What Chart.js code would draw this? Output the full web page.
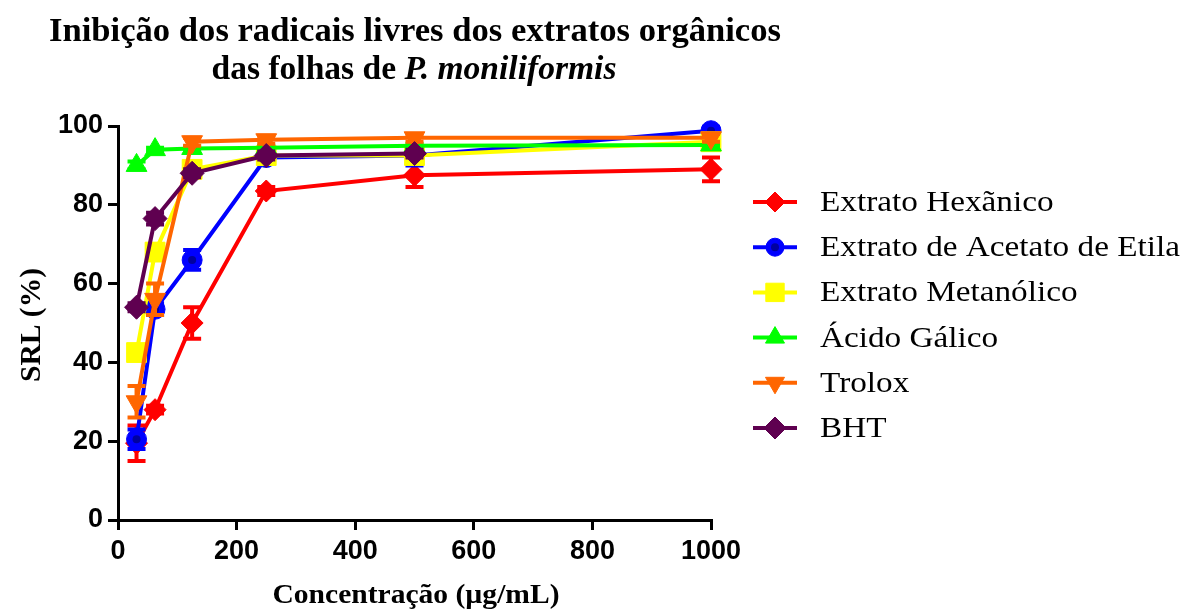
<!DOCTYPE html>
<html>
<head>
<meta charset="utf-8">
<script src="https://cdn.jsdelivr.net/npm/chart.js@4/dist/chart.umd.min.js"></script>
<style>
html,body{margin:0;padding:0;background:#fff;}
#wrap{width:1186px;height:610px;position:relative;}
</style>
</head>
<body>
<div id="wrap"><canvas id="c"></canvas></div>
<script>
// ---- data ----
const concentrations = [31.25, 62.5, 125, 250, 500, 1000];
const seriesNames = ["Extrato Hexãnico", "Extrato de Acetato de Etila", "Extrato Metanólico", "Ácido Gálico", "Trolox", "BHT"];
const hexanico   = [19.5, 28, 50, 83.5, 87.5, 89];
const hexanicoErr = [4.5, 1, 4, 1, 3, 3];
const acetato    = [20.5, 53.5, 66, 92, 92.5, 98.8];
const acetatoErr = [2.5, 1.5, 2.5, 1, 2.5, 1];
const metanolico = [42.5, 68, 89, 92.5, 92.5, 96];
const metanolicoErr = [1, 2, 1.5, 1, 1, 0.5];
const galico     = [90, 94, 94.3, 94.5, 95, 95.2];
const galicoErr  = [1, 0.5, 0.5, 0.5, 0.5, 0.5];
const trolox     = [30, 56, 96, 96.5, 97, 97];
const troloxErr  = [4, 4, 1, 1, 1, 1];
const bht        = [54, 76.5, 88, 92.5, 93, null];
const bhtErr     = [1, 1.5, 1, 1, 1, null];
const xTicks = [0, 200, 400, 600, 800, 1000];
const yTicks = [0, 20, 40, 60, 80, 100];

const seriesValues = [hexanico, acetato, metanolico, galico, trolox, bht];
const seriesErrors = [hexanicoErr, acetatoErr, metanolicoErr, galicoErr, troloxErr, bhtErr];
const colors = ["#FF0000", "#0000FF", "#FFFF00", "#00FF00", "#FF6600", "#5F0050"];
const styles = [
  {pointStyle:"rectRot", radius:11, rotation:0},
  {pointStyle:"circle", radius:10, rotation:0},
  {pointStyle:"rect", radius:14, rotation:0},
  {pointStyle:"triangle", radius:12, rotation:0},
  {pointStyle:"triangle", radius:12, rotation:180},
  {pointStyle:"rectRot", radius:12, rotation:0}
];

const datasets = seriesNames.map((name, i) => ({
  label: name,
  data: concentrations.map((x, j) => ({x: x, y: seriesValues[i][j]})).filter(p => p.y !== null),
  errors: seriesErrors[i],
  borderColor: colors[i],
  backgroundColor: colors[i],
  pointBackgroundColor: colors[i],
  pointBorderColor: colors[i],
  pointBorderWidth: 1,
  borderWidth: 4,
  pointStyle: styles[i].pointStyle,
  pointRadius: styles[i].radius,
  pointRotation: styles[i].rotation,
  pointHoverRadius: styles[i].radius,
  tension: 0,
  clip: false,
  order: 5 - i,
  centerDot: i === 1 ? "#0000A0" : null
}));

const errorBars = {
  id: "errorBars",
  beforeDatasetDraw(chart, args) {
    const ds = chart.data.datasets[args.index];
    if (!ds.errors) return;
    const ctx = chart.ctx, xs = chart.scales.x, ys = chart.scales.y;
    ctx.save();
    ctx.strokeStyle = ds.borderColor;
    ctx.lineWidth = 4;
    ctx.lineCap = "butt";
    ds.data.forEach((p, k) => {
      const e = ds.errors[k];
      if (!e) return;
      const px = xs.getPixelForValue(p.x);
      const y1 = ys.getPixelForValue(p.y + e);
      const y2 = ys.getPixelForValue(p.y - e);
      ctx.beginPath();
      ctx.moveTo(px, y1); ctx.lineTo(px, y2);
      ctx.moveTo(px - 9, y1); ctx.lineTo(px + 9, y1);
      ctx.moveTo(px - 9, y2); ctx.lineTo(px + 9, y2);
      ctx.stroke();
    });
    ctx.restore();
  },
  afterDatasetDraw(chart, args) {
    const ds = chart.data.datasets[args.index];
    if (!ds.centerDot) return;
    const ctx = chart.ctx;
    ctx.save();
    ctx.fillStyle = ds.centerDot;
    args.meta.data.forEach(pt => {
      ctx.beginPath(); ctx.arc(pt.x, pt.y, 4, 0, Math.PI * 2); ctx.fill();
    });
    ctx.restore();
  }
};

function drawScaled(ctx, parts, cx, baseline, targetW) {
  let total = 0;
  parts.forEach(p => { ctx.font = p.font; p.w = ctx.measureText(p.text).width; total += p.w; });
  const sx = targetW / total;
  ctx.save();
  ctx.translate(cx - targetW / 2, baseline);
  ctx.scale(sx, 1);
  ctx.textAlign = "left";
  ctx.textBaseline = "alphabetic";
  let x = 0;
  parts.forEach(p => { ctx.font = p.font; ctx.fillText(p.text, x, 0); x += p.w; });
  ctx.restore();
}

const texts = {
  id: "texts",
  afterDraw(chart) {
    const ctx = chart.ctx;
    ctx.save();
    ctx.fillStyle = "#000";
    const serif = "'Liberation Serif', 'Times New Roman', serif";
    // title
    drawScaled(ctx, [{text: "Inibição dos radicais livres dos extratos orgânicos", font: "bold 33px " + serif}], 415, 41, 732);
    drawScaled(ctx, [{text: "das folhas de ", font: "bold 33px " + serif}, {text: "P. moniliformis", font: "italic bold 33px " + serif}], 414, 79, 405);
    // x axis title
    drawScaled(ctx, [{text: "Concentração (µg/mL)", font: "bold 28px " + serif}], 416, 603, 287);
    // y axis title
    ctx.save();
    ctx.translate(40, 325);
    ctx.rotate(-Math.PI / 2);
    drawScaled(ctx, [{text: "SRL (%)", font: "bold 29px " + serif}], 0, 0, 114);
    ctx.restore();
    // legend
    const font = "29px " + serif;
    ctx.font = font;
    const refW = ctx.measureText(seriesNames[1]).width;
    const sx = 360 / refW;
    chart.data.datasets.forEach((ds, i) => {
      const cy = 202 + i * 45.2;
      ctx.save();
      ctx.strokeStyle = ds.borderColor;
      ctx.lineWidth = 4;
      ctx.beginPath(); ctx.moveTo(753, cy); ctx.lineTo(797, cy); ctx.stroke();
      ctx.fillStyle = ds.pointBackgroundColor;
      ctx.strokeStyle = ds.pointBorderColor;
      ctx.lineWidth = 1;
      const r = Math.max(9, ds.pointRadius - 1);
      if (Chart.helpers && Chart.helpers.drawPoint) {
        Chart.helpers.drawPoint(ctx, {pointStyle: ds.pointStyle, radius: r, rotation: ds.pointRotation, borderWidth: 1}, 775, cy);
      }
      if (ds.centerDot) {
        ctx.fillStyle = ds.centerDot;
        ctx.beginPath(); ctx.arc(775, cy, 4, 0, Math.PI * 2); ctx.fill();
      }
      ctx.restore();
      ctx.save();
      ctx.fillStyle = "#000";
      ctx.font = font;
      ctx.textAlign = "left";
      ctx.textBaseline = "alphabetic";
      ctx.translate(820, cy + 9);
      ctx.scale(sx, 1);
      ctx.fillText(ds.label, 0, 0);
      ctx.restore();
    });
    ctx.restore();
  }
};

const tickFont = {family: "'Liberation Sans', Arial, sans-serif", size: 27, weight: "bold"};

new Chart(document.getElementById("c"), {
  type: "line",
  data: {datasets: datasets},
  options: {
    responsive: true,
    maintainAspectRatio: false,
    animation: false,
    events: [],
    layout: {padding: {top: 126, right: 475, left: 0, bottom: 0}},
    plugins: {legend: {display: false}, title: {display: false}, tooltip: {enabled: false}},
    scales: {
      x: {
        type: "linear",
        min: 0, max: 1000,
        afterBuildTicks(scale) { scale.ticks = xTicks.map(v => ({value: v})); },
        afterFit(scale) { scale.height = 90; },
        ticks: {font: tickFont, color: "#000", padding: 5, maxRotation: 0, autoSkip: false, callback: v => String(v)},
        grid: {drawOnChartArea: false, drawTicks: true, tickLength: 10, color: "#000", lineWidth: 3},
        border: {display: true, color: "#000", width: 3}
      },
      y: {
        type: "linear",
        min: 0, max: 100,
        afterBuildTicks(scale) { scale.ticks = yTicks.map(v => ({value: v})); },
        afterFit(scale) { scale.width = 118; },
        ticks: {font: tickFont, color: "#000", padding: 5, autoSkip: false, callback: v => String(v)},
        grid: {drawOnChartArea: false, drawTicks: true, tickLength: 10, color: "#000", lineWidth: 3},
        border: {display: true, color: "#000", width: 3}
      }
    }
  },
  plugins: [errorBars, texts]
});
</script>
</body>
</html>
